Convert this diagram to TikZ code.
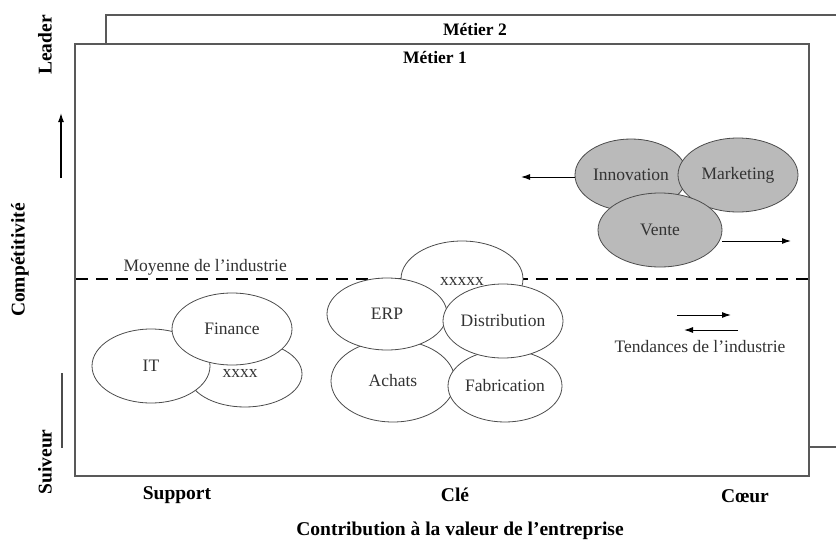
\documentclass[tikz,border=0pt]{standalone}
\usepackage{fontspec}
\setmainfont{Liberation Serif}
\usetikzlibrary{shapes.geometric,arrows.meta}
\begin{document}
\begin{tikzpicture}[x=1pt,y=-1pt,
  frame/.style={draw=black!65,line width=1.1pt},
  bubble/.style={ellipse,draw=black!70,line width=0.8pt,fill=white,inner sep=0pt,font=\fontsize{17.5}{20}\selectfont,text=black!80},
  greybubble/.style={bubble,fill=black!27},
  plain/.style={font=\fontsize{17.5}{20}\selectfont,text=black!80},
  axislabel/.style={font=\bfseries\fontsize{19.5}{22}\selectfont},
  arr/.style={line width=1pt,-{Latex[length=9pt,width=6pt]}}]
\useasboundingbox (0,0) rectangle (836,541);
\clip (0,0) rectangle (836,541);
% frames
\draw[frame] (106,447) -- (106,15) -- (850,15);
\draw[frame] (809,447) -- (850,447);
\node[font=\bfseries\fontsize{17.5}{20}\selectfont] (m2) at (475,30) {Métier 2};
\draw[frame,fill=white] (75,44) rectangle (809,476);
\node[font=\bfseries\fontsize{17.5}{20}\selectfont] (m1) at (435,58) {Métier 1};
% left axis
\node[axislabel,rotate=90] (leader) at (45,45) {Leader};
\node[axislabel,rotate=90] (compet) at (20,260) {Compétitivité};
\node[axislabel,rotate=90] (suiveur) at (45,462) {Suiveur};
\coordinate (ua) at (61,178);
\coordinate (ub) at (61,113);
\draw[arr,line width=1.2pt] (ua) -- (ub);
\coordinate (la) at (62,373);
\coordinate (lb) at (62,448);
\draw[line width=1.2pt,black!70] (la) -- (lb);
% average line
\coordinate (da) at (76,279);
\coordinate (db) at (809,279);
\draw[line width=2.4pt,dash pattern=on 12pt off 8pt] (da) -- (db);
\node[plain,anchor=west] (moy) at (120,267) {Moyenne de l'industrie};
% support group
\node[bubble,minimum width=114pt,minimum height=66pt] (x4) at (245,374) {};
\node[bubble,minimum width=118pt,minimum height=74pt] (it) at (151,366) {IT};
\node[plain] (x4t) at (240,373) {xxxx};
\node[bubble,minimum width=120pt,minimum height=72pt] (fin) at (232,329) {Finance};
% key group
\node[bubble,minimum width=122pt,minimum height=76pt] (x5) at (462,279) {};
\node[plain] (x5t) at (462,281) {xxxxx};
\node[bubble,minimum width=124pt,minimum height=82pt] (ach) at (393,381) {Achats};
\node[bubble,minimum width=114pt,minimum height=72pt] (fab) at (505,386) {Fabrication};
\node[bubble,minimum width=120pt,minimum height=72pt] (erp) at (387,314) {ERP};
\node[bubble,minimum width=120pt,minimum height=74pt] (dist) at (503,321) {Distribution};
% core group
\node[greybubble,minimum width=112pt,minimum height=72pt] (inno) at (631,175) {Innovation};
\node[greybubble,minimum width=120pt,minimum height=74pt] (mkt) at (738,175) {Marketing};
\node[greybubble,minimum width=124pt,minimum height=74pt] (vente) at (660,230) {Vente};
\coordinate (il) at (521,177);
\draw[arr] (inno.west |- il) -- (il);
\coordinate (vr) at (791,241);
\draw[arr] (vente.east |- vr) -- (vr);
% trends
\coordinate (t1a) at (677,315);
\coordinate (t1b) at (731,315);
\coordinate (t2a) at (738,330);
\coordinate (t2b) at (684,330);
\draw[arr] (t1a) -- (t1b);
\draw[arr] (t2a) -- (t2b);
\node[plain] (tend) at (700,347) {Tendances de l'industrie};
% bottom axis
\node[axislabel] (sup) at (177,495) {Support};
\node[axislabel] (cle) at (455,495) {Clé};
\node[axislabel] (coeur) at (745,496) {Cœur};
\node[axislabel] (contrib) at (460,531) {Contribution à la valeur de l'entreprise};
\end{tikzpicture}
\end{document}
